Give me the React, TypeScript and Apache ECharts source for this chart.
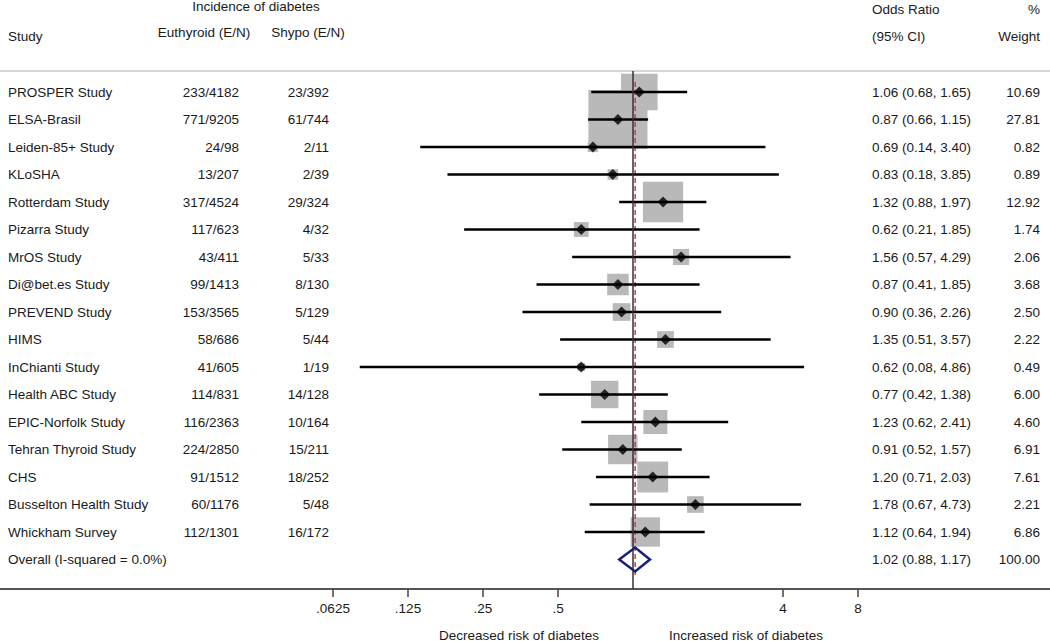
import React, { useEffect, useRef } from "react";
import * as echarts from "echarts";

const studies = [
  "PROSPER Study", "ELSA-Brasil", "Leiden-85+ Study", "KLoSHA", "Rotterdam Study",
  "Pizarra Study", "MrOS Study", "Di@bet.es Study", "PREVEND Study", "HIMS",
  "InChianti Study", "Health ABC Study", "EPIC-Norfolk Study", "Tehran Thyroid Study",
  "CHS", "Busselton Health Study", "Whickham Survey",
];
const euthyroid = [
  "233/4182", "771/9205", "24/98", "13/207", "317/4524", "117/623", "43/411", "99/1413",
  "153/3565", "58/686", "41/605", "114/831", "116/2363", "224/2850", "91/1512", "60/1176", "112/1301",
];
const shypo = [
  "23/392", "61/744", "2/11", "2/39", "29/324", "4/32", "5/33", "8/130",
  "5/129", "5/44", "1/19", "14/128", "10/164", "15/211", "18/252", "5/48", "16/172",
];
const oddsRatio = [1.06, 0.87, 0.69, 0.83, 1.32, 0.62, 1.56, 0.87, 0.90, 1.35, 0.62, 0.77, 1.23, 0.91, 1.20, 1.78, 1.12];
const ciLow = [0.68, 0.66, 0.14, 0.18, 0.88, 0.21, 0.57, 0.41, 0.36, 0.51, 0.08, 0.42, 0.62, 0.52, 0.71, 0.67, 0.64];
const ciHigh = [1.65, 1.15, 3.40, 3.85, 1.97, 1.85, 4.29, 1.85, 2.26, 3.57, 4.86, 1.38, 2.41, 1.57, 2.03, 4.73, 1.94];
const weights = [10.69, 27.81, 0.82, 0.89, 12.92, 1.74, 2.06, 3.68, 2.50, 2.22, 0.49, 6.00, 4.60, 6.91, 7.61, 2.21, 6.86];

const overallLabel = "Overall (I-squared = 0.0%)";
const overallOR = 1.02;
const overallLow = 0.88;
const overallHigh = 1.17;
const overallWeight = 100.0;

const tickValues = [0.0625, 0.125, 0.25, 0.5, 4, 8];
const tickLabels = [".0625", ".125", ".25", ".5", "4", "8"];

const FONT_FAMILY = '"Liberation Sans", Arial, Helvetica, sans-serif';
const FONT = `13.5px ${FONT_FAMILY}`;
const TEXT_COLOR = "#1a1a1a";

const L2 = (v: number) => Math.log2(v);

export default function App() {
  const ref = useRef<HTMLDivElement>(null);

  useEffect(() => {
    if (!ref.current) return;
    const chart = echarts.init(ref.current, undefined, { renderer: "svg" });

    const nRows = studies.length;
    const overallRow = nRows;

    const textRows = studies.map((s, i) => [i]).concat([[overallRow]]);
    const allNames = studies.concat([overallLabel]);
    const allEu = euthyroid.concat([""]);
    const allSh = shypo.concat([""]);
    const allOR = oddsRatio.concat([overallOR]);
    const allLo = ciLow.concat([overallLow]);
    const allHi = ciHigh.concat([overallHigh]);
    const allW = weights.concat([overallWeight]);

    const txt = (text: string, x: number, y: number, align: string) => ({
      type: "text",
      x,
      y,
      style: { text, x: 0, y: 0, align, verticalAlign: "middle", font: FONT, fill: TEXT_COLOR },
    });

    const option: any = {
      animation: false,
      grid: { left: 0, right: 0, top: 71, bottom: 52 },
      xAxis: {
        type: "value",
        min: -633 / 75,
        max: (1050 - 633) / 75,
        axisLine: { show: true, onZero: false, lineStyle: { color: "#555", width: 2 } },
        axisTick: {
          show: true,
          customValues: tickValues.map(L2),
          length: 8,
          lineStyle: { color: "#444", width: 1.5 },
        },
        axisLabel: {
          customValues: tickValues.map(L2),
          formatter: (v: number) => {
            const idx = tickValues.findIndex((t) => Math.abs(L2(t) - v) < 1e-6);
            return idx >= 0 ? tickLabels[idx] : "";
          },
          margin: 12,
          fontSize: 13.5,
          color: TEXT_COLOR,
          fontFamily: FONT_FAMILY,
        },
        splitLine: { show: false },
      },
      yAxis: {
        type: "value",
        inverse: true,
        min: -(92 - 71) / 27.5,
        max: -(92 - 71) / 27.5 + 518 / 27.5,
        show: false,
      },
      graphic: [
        { type: "line", shape: { x1: 0, y1: 71, x2: 1050, y2: 71 }, style: { stroke: "#c8c8c8", lineWidth: 1.5 } },
        txt("Incidence of diabetes", 256, 6, "center"),
        txt("Study", 8, 36, "left"),
        txt("Euthyroid (E/N)", 204, 32, "center"),
        txt("Shypo (E/N)", 308, 32, "center"),
        txt("Odds Ratio", 872, 9, "left"),
        txt("%", 1040, 9, "right"),
        txt("(95% CI)", 872, 36, "left"),
        txt("Weight", 1040, 36, "right"),
        txt("Decreased risk of diabetes", 519, 635, "center"),
        txt("Increased risk of diabetes", 746, 635, "center"),
      ],
      series: [
        {
          type: "custom",
          name: "weights",
          z: 1,
          clip: false,
          data: oddsRatio.map((v, i) => [L2(v), i, weights[i]]),
          renderItem: (params: any, api: any) => {
            const c = api.coord([api.value(0), api.value(1)]);
            const s = 11.2 * Math.sqrt(api.value(2));
            return {
              type: "rect",
              shape: { x: c[0] - s / 2, y: c[1] - s / 2, width: s, height: s },
              style: { fill: "#b9b9b9" },
            };
          },
        },
        {
          type: "line",
          name: "overall-ref",
          z: 2,
          symbol: "none",
          silent: true,
          data: [
            [L2(overallOR), -0.36],
            [L2(overallOR), 17.56],
          ],
          lineStyle: { color: "#b5384a", width: 1.4, type: [5, 3] },
        },
        {
          type: "custom",
          name: "ci",
          z: 3,
          clip: false,
          data: ciLow.map((v, i) => [L2(v), L2(ciHigh[i]), i]),
          renderItem: (params: any, api: any) => {
            const a = api.coord([api.value(0), api.value(2)]);
            const b = api.coord([api.value(1), api.value(2)]);
            return {
              type: "line",
              shape: { x1: a[0], y1: a[1], x2: b[0], y2: b[1] },
              style: { stroke: "#000", lineWidth: 2.5 },
            };
          },
          markLine: {
            silent: true,
            symbol: "none",
            label: { show: false },
            lineStyle: { color: "#333", width: 1.5, type: "solid" },
            data: [{ xAxis: 0 }],
          },
        },
        {
          type: "scatter",
          name: "points",
          z: 4,
          symbol: "diamond",
          symbolSize: 11,
          itemStyle: { color: "#000" },
          data: oddsRatio.map((v, i) => [L2(v), i]),
        },
        {
          type: "custom",
          name: "overall",
          z: 5,
          clip: false,
          data: [[L2(overallLow), L2(overallOR), L2(overallHigh), overallRow]],
          renderItem: (params: any, api: any) => {
            const lo = api.coord([api.value(0), api.value(3)]);
            const mid = api.coord([api.value(1), api.value(3)]);
            const hi = api.coord([api.value(2), api.value(3)]);
            const h = 12;
            return {
              type: "polygon",
              shape: {
                points: [
                  [lo[0], lo[1]],
                  [mid[0], mid[1] - h],
                  [hi[0], hi[1]],
                  [mid[0], mid[1] + h],
                ],
              },
              style: { fill: "none", stroke: "#1b1e78", lineWidth: 2.5 },
            };
          },
        },
        {
          type: "custom",
          name: "texts",
          z: 6,
          clip: false,
          silent: true,
          data: textRows,
          renderItem: (params: any, api: any) => {
            const i = params.dataIndex;
            const y = api.coord([0, api.value(0)])[1];
            const or = `${allOR[i].toFixed(2)} (${allLo[i].toFixed(2)}, ${allHi[i].toFixed(2)})`;
            return {
              type: "group",
              children: [
                txt(allNames[i], 8, y, "left"),
                txt(allEu[i], 239, y, "right"),
                txt(allSh[i], 329, y, "right"),
                txt(or, 872, y, "left"),
                txt(allW[i].toFixed(2), 1040, y, "right"),
              ],
            };
          },
        },
      ],
    };

    chart.setOption(option);
    return () => chart.dispose();
  }, []);

  return (
    <div
      ref={ref}
      style={{ position: "absolute", left: 0, top: 0, width: 1050, height: 641, background: "#fff" }}
    />
  );
}
